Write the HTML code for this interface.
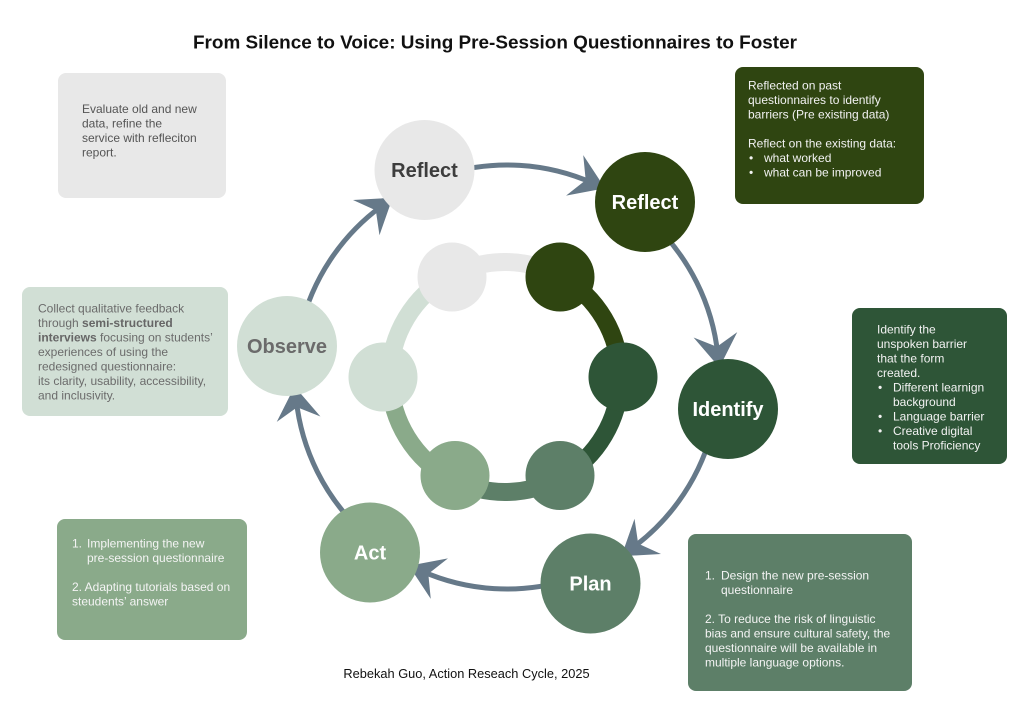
<!DOCTYPE html>
<html>
<head>
<meta charset="utf-8">
<style>
html,body{margin:0;padding:0;background:#ffffff;}
svg{display:block;}
text{font-family:"Liberation Sans",Arial,Helvetica,sans-serif;}
</style>
</head>
<body>
<svg width="1024" height="724" viewBox="0 0 1024 724" xmlns="http://www.w3.org/2000/svg">
<rect x="0" y="0" width="1024" height="724" fill="#ffffff"/>

<!-- Title -->
<text x="193" y="48.3" font-size="18.9" font-weight="bold" fill="#111" textLength="604" lengthAdjust="spacingAndGlyphs">From Silence to Voice: Using Pre-Session Questionnaires to Foster</text>

<!-- Boxes -->
<rect x="58" y="73" width="168" height="125" rx="8" fill="#e8e8e8"/>
<rect x="735" y="67" width="189" height="137" rx="8" fill="#2f4511"/>
<rect x="852" y="308" width="155" height="156" rx="8" fill="#2e5537"/>
<rect x="22" y="287" width="206" height="129" rx="8" fill="#d1dfd5"/>
<rect x="57" y="519" width="190" height="121" rx="8" fill="#8aaa8a"/>
<rect x="688" y="534" width="224" height="157" rx="8" fill="#5d7f68"/>

<!-- Top-left text -->
<g font-size="12" fill="#555555">
<text x="82" y="113">Evaluate old and new</text>
<text x="82" y="127.5">data, refine the</text>
<text x="82" y="142">service with refleciton</text>
<text x="82" y="156.5">report.</text>
</g>

<!-- Top-right text -->
<g font-size="12" fill="#f2f2f2">
<text x="748" y="89.5">Reflected on past</text>
<text x="748" y="104">questionnaires to identify</text>
<text x="748" y="118.5">barriers (Pre existing data)</text>
<text x="748" y="147.5">Reflect on the existing data:</text>
<text x="749" y="162">•</text><text x="764" y="162">what worked</text>
<text x="749" y="176.5">•</text><text x="764" y="176.5">what can be improved</text>
</g>

<!-- Right text -->
<g font-size="12" fill="#f2f2f2">
<text x="877" y="333.5">Identify the</text>
<text x="877" y="348">unspoken barrier</text>
<text x="877" y="362.5">that the form</text>
<text x="877" y="377">created.</text>
<text x="878" y="391.5">•</text><text x="893" y="391.5">Different learnign</text>
<text x="893" y="406">background</text>
<text x="878" y="420.5">•</text><text x="893" y="420.5">Language barrier</text>
<text x="878" y="435">•</text><text x="893" y="435">Creative digital</text>
<text x="893" y="449.5">tools Proficiency</text>
</g>

<!-- Left text -->
<g font-size="12" fill="#6b6b6b">
<text x="38" y="312.5">Collect qualitative feedback</text>
<text x="38" y="327">through <tspan font-weight="bold" fill="#666">semi-structured</tspan></text>
<text x="38" y="341.5"><tspan font-weight="bold" fill="#666">interviews</tspan> focusing on students’</text>
<text x="38" y="356">experiences of using the</text>
<text x="38" y="370.5">redesigned questionnaire:</text>
<text x="38" y="385">its clarity, usability, accessibility,</text>
<text x="38" y="399.5">and inclusivity.</text>
</g>

<!-- Bottom-left text -->
<g font-size="12" fill="#f4f4f4">
<text x="72" y="547.5">1.</text><text x="87" y="547.5">Implementing the new</text>
<text x="87" y="562">pre-session questionnaire</text>
<text x="72" y="591">2. Adapting tutorials based on</text>
<text x="72" y="605.5">steudents’ answer</text>
</g>

<!-- Bottom-right text -->
<g font-size="12" fill="#f4f4f4">
<text x="705" y="579.5">1.</text><text x="721" y="579.5">Design the new pre-session</text>
<text x="721" y="594">questionnaire</text>
<text x="705" y="623">2. To reduce the risk of linguistic</text>
<text x="705" y="637.5">bias and ensure cultural safety, the</text>
<text x="705" y="652">questionnaire will be available in</text>
<text x="705" y="666.5">multiple language options.</text>
</g>

<!-- Footer -->
<text x="466.5" y="678" font-size="12.8" fill="#111" text-anchor="middle">Rebekah Guo, Action Reseach Cycle, 2025</text>

<!-- Outer arcs (circle center 507,377 r 212) -->
<g fill="none" stroke="#667989" stroke-width="5">
<circle cx="507" cy="377" r="212" stroke-dasharray="151.7 2000" transform="rotate(-107 507 377)"/>
<circle cx="507" cy="377" r="212" stroke-dasharray="151.7 2000" transform="rotate(-47 507 377)"/>
<circle cx="507" cy="377" r="212" stroke-dasharray="151.7 2000" transform="rotate(13 507 377)"/>
<circle cx="507" cy="377" r="212" stroke-dasharray="151.7 2000" transform="rotate(73 507 377)"/>
<circle cx="507" cy="377" r="212" stroke-dasharray="151.7 2000" transform="rotate(133 507 377)"/>
<circle cx="507" cy="377" r="212" stroke-dasharray="151.7 2000" transform="rotate(193 507 377)"/>
</g>
<!-- Arrowheads -->
<g fill="#667989">
<polygon points="719,393.5 697,360.5 719,372.5 741,360.5" transform="rotate(-67 507 377)"/>
<polygon points="719,393.5 697,360.5 719,372.5 741,360.5" transform="rotate(-7 507 377)"/>
<polygon points="719,393.5 697,360.5 719,372.5 741,360.5" transform="rotate(53 507 377)"/>
<polygon points="719,393.5 697,360.5 719,372.5 741,360.5" transform="rotate(113 507 377)"/>
<polygon points="719,393.5 697,360.5 719,372.5 741,360.5" transform="rotate(173 507 377)"/>
<polygon points="719,393.5 697,360.5 719,372.5 741,360.5" transform="rotate(233 507 377)"/>
</g>

<!-- Outer nodes -->
<circle cx="424.5" cy="170" r="50" fill="#e8e8e8"/>
<circle cx="645" cy="202" r="50" fill="#2f4511"/>
<circle cx="728" cy="409" r="50" fill="#2e5537"/>
<circle cx="590.5" cy="583.5" r="50" fill="#5d7f68"/>
<circle cx="370" cy="552.5" r="50" fill="#8aaa8a"/>
<circle cx="287" cy="346" r="50" fill="#d1dfd5"/>

<g font-size="20" font-weight="bold" text-anchor="middle">
<text x="424.5" y="177" fill="#3d3d3d">Reflect</text>
<text x="645" y="209" fill="#ffffff">Reflect</text>
<text x="728" y="416" fill="#ffffff">Identify</text>
<text x="590.5" y="590.5" fill="#ffffff">Plan</text>
<text x="370" y="559.5" fill="#ffffff">Act</text>
<text x="287" y="353" fill="#6b6b6b">Observe</text>
</g>

<!-- Inner ring (center 505,377 r 115) -->
<g fill="none" stroke-width="18">
<circle cx="505" cy="377" r="115" stroke="#e8e8e8" stroke-dasharray="113.8 2000" transform="rotate(-117.9 505 377)"/>
<circle cx="505" cy="377" r="115" stroke="#2f4511" stroke-dasharray="122.8 2000" transform="rotate(-61.2 505 377)"/>
<circle cx="505" cy="377" r="115" stroke="#2e5537" stroke-dasharray="122 2000" transform="rotate(0 505 377)"/>
<circle cx="505" cy="377" r="115" stroke="#5d7f68" stroke-dasharray="112.6 2000" transform="rotate(60.8 505 377)"/>
<circle cx="505" cy="377" r="115" stroke="#8aaa8a" stroke-dasharray="126.6 2000" transform="rotate(116.9 505 377)"/>
<circle cx="505" cy="377" r="115" stroke="#d1dfd5" stroke-dasharray="124.6 2000" transform="rotate(180 505 377)"/>
</g>
<circle cx="452" cy="277" r="34.5" fill="#e8e8e8"/>
<circle cx="560" cy="277" r="34.5" fill="#2f4511"/>
<circle cx="623" cy="377" r="34.5" fill="#2e5537"/>
<circle cx="560" cy="475.5" r="34.5" fill="#5d7f68"/>
<circle cx="455" cy="475.5" r="34.5" fill="#8aaa8a"/>
<circle cx="383" cy="377" r="34.5" fill="#d1dfd5"/>
</svg>
</body>
</html>
